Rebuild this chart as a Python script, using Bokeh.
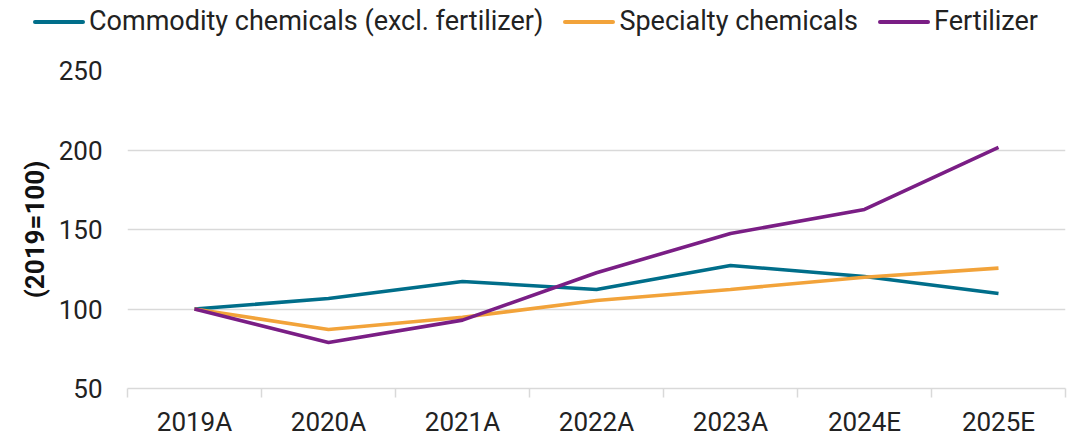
from bokeh.plotting import figure
from bokeh.layouts import column
from bokeh.models import Range1d, FixedTicker, Div
from bokeh.embed import file_html
from bokeh.resources import INLINE

categories = ["2019A", "2020A", "2021A", "2022A", "2023A", "2024E", "2025E"]
commodity = [100, 106.6, 117.3, 112.3, 127.4, 120.4, 109.7]
specialty = [100, 87.1, 94.8, 105.3, 112.3, 120.0, 125.7]
fertilizer = [100, 78.9, 93.0, 122.8, 147.5, 162.6, 201.6]
series_names = ["Commodity chemicals (excl. fertilizer)", "Specialty chemicals", "Fertilizer"]
colors = ["#006E8A", "#F2A33A", "#7A1E85"]
y_ticks = [50, 100, 150, 200, 250]

FONT = "Roboto"
xs = [i + 0.5 for i in range(len(categories))]
series = [commodity, specialty, fertilizer]

# ---------- main chart ----------
p = figure(frame_width=938, frame_height=318, output_backend="svg", toolbar_location=None,
           x_range=Range1d(0, len(categories)), y_range=Range1d(50, 250),
           min_border_left=127, min_border_right=2, min_border_top=27, min_border_bottom=0)
p.outline_line_color = None
p.background_fill_color = "white"
p.border_fill_color = "white"

for vals, c, n in zip(series, colors, series_names):
    p.line(xs, vals, line_color=c, line_width=3.6, name=n)

p.xaxis.ticker = FixedTicker(ticks=xs, minor_ticks=list(range(len(categories) + 1)))
p.xaxis.major_label_overrides = {x: c for x, c in zip(xs, categories)}
p.xaxis.major_tick_line_color = None
p.xaxis.major_tick_in = 0
p.xaxis.major_tick_out = 9
p.xaxis.minor_tick_line_color = "#d9d9d9"
p.xaxis.minor_tick_line_width = 1.5
p.xaxis.minor_tick_in = 0
p.xaxis.minor_tick_out = 9
p.xaxis.axis_line_color = "#d9d9d9"
p.xaxis.axis_line_width = 1.5
p.xaxis.major_label_text_font = FONT
p.xaxis.major_label_text_font_size = "26px"
p.xaxis.major_label_text_color = "#222222"
p.xaxis.major_label_standoff = 9
p.xgrid.grid_line_color = None

p.yaxis.ticker = FixedTicker(ticks=y_ticks)
p.yaxis.axis_line_color = None
p.yaxis.major_tick_line_color = None
p.yaxis.major_tick_in = 0
p.yaxis.major_tick_out = 0
p.yaxis.minor_tick_line_color = None
p.yaxis.major_label_text_font = FONT
p.yaxis.major_label_text_font_size = "26px"
p.yaxis.major_label_text_color = "#222222"
p.yaxis.major_label_standoff = 25
p.yaxis.axis_label = "(2019=100)"
p.yaxis.axis_label_text_font = FONT
p.yaxis.axis_label_text_font_style = "bold"
p.yaxis.axis_label_text_font_size = "26px"
p.yaxis.axis_label_text_color = "#111111"
p.yaxis.axis_label_standoff = 6
p.ygrid.grid_line_color = "#d9d9d9"
p.ygrid.grid_line_width = 1.5

# ---------- legend strip (HTML) ----------
items_html = []
for i, (n, c) in enumerate(zip(series_names, colors)):
    gap = "0px" if i == 0 else "20px"
    items_html.append(
        f'<span style="display:inline-flex;align-items:center;margin-left:{gap};">'
        f'<span style="display:inline-block;width:52px;height:4px;border-radius:2px;background:{c};margin-right:4px;"></span>'
        f'<span>{n}</span></span>'
    )
legend_html = (
    f'<div style="display:flex;align-items:center;height:43px;padding-left:33px;'
    f'font-family:{FONT};font-size:27px;color:#222222;white-space:nowrap;">'
    + "".join(items_html) + "</div>"
)
lg = Div(text=legend_html, width=1067, height=43, margin=0)

layout = column(lg, p, spacing=0)
open("out.html", "w").write(file_html(layout, INLINE))
